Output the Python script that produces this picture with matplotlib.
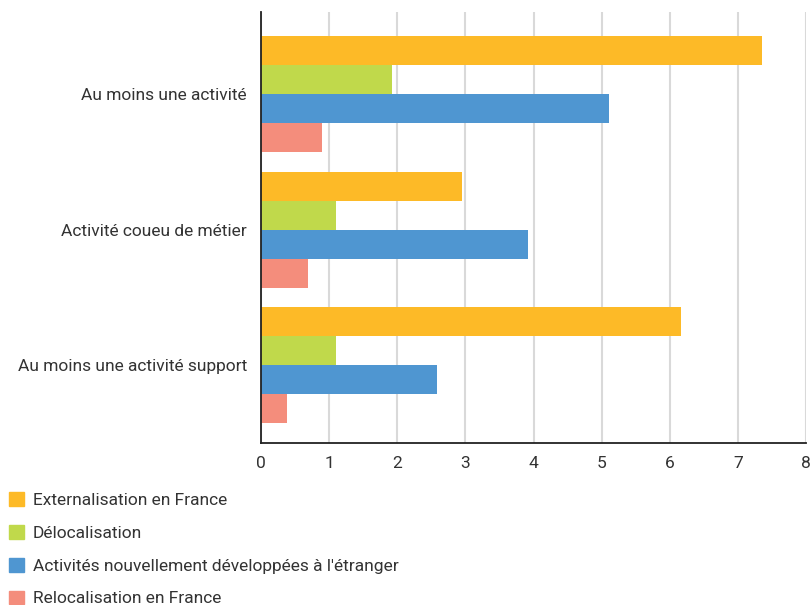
import matplotlib.pyplot as plt
from matplotlib.patches import Patch
import numpy as np

plt.rcParams['font.family'] = ['Roboto', 'DejaVu Sans']

categories = ["Au moins une activité", "Activité coueu de métier", "Au moins une activité support"]
series_names = ["Externalisation en France", "Délocalisation",
                "Activités nouvellement développées à l'étranger", "Relocalisation en France"]
externalisation = [7.35, 2.95, 6.16]
delocalisation = [1.93, 1.10, 1.10]
nouvelles = [5.11, 3.92, 2.59]
relocalisation = [0.89, 0.69, 0.38]
colors = ["#FDBA27", "#C0D94B", "#4F96D1", "#F48D7C"]

values = [externalisation, delocalisation, nouvelles, relocalisation]

fig = plt.figure(figsize=(8.12, 6.05), dpi=100)
ax = fig.add_axes([261 / 812, 1 - 443 / 605, 545 / 812, 431 / 605])

y = np.arange(len(categories))
h = 0.214
for i, (vals, c) in enumerate(zip(values, colors)):
    ax.barh(y + (i - 1.5) * h, vals, height=h, color=c, zorder=2)

ax.set_xlim(0, 8)
ax.set_ylim(2.576, -0.609)
ax.set_xticks(range(9))
ax.set_yticks(y)
ax.set_yticklabels(categories)
ax.tick_params(axis='both', length=0, labelsize=12.5, colors='#333333')
ax.tick_params(axis='y', pad=10)
ax.tick_params(axis='x', pad=9)
ax.grid(axis='x', color='#d9d9d9', linewidth=1.5, zorder=0)
for s in ['top', 'right']:
    ax.spines[s].set_visible(False)
for s in ['left', 'bottom']:
    ax.spines[s].set_color('#222222')
    ax.spines[s].set_linewidth(1.3)
    ax.spines[s].set_zorder(3)

handles = [Patch(color=c) for c in colors]
fig.legend(handles, series_names, loc='upper left', bbox_to_anchor=(4 / 812, 1 - 487 / 605),
           frameon=False, fontsize=12.5, handlelength=0.85, handleheight=0.85,
           handletextpad=0.5, labelspacing=0.97, borderaxespad=0, borderpad=0.3,
           labelcolor='#333333')

fig.savefig("out.png", dpi=100)
